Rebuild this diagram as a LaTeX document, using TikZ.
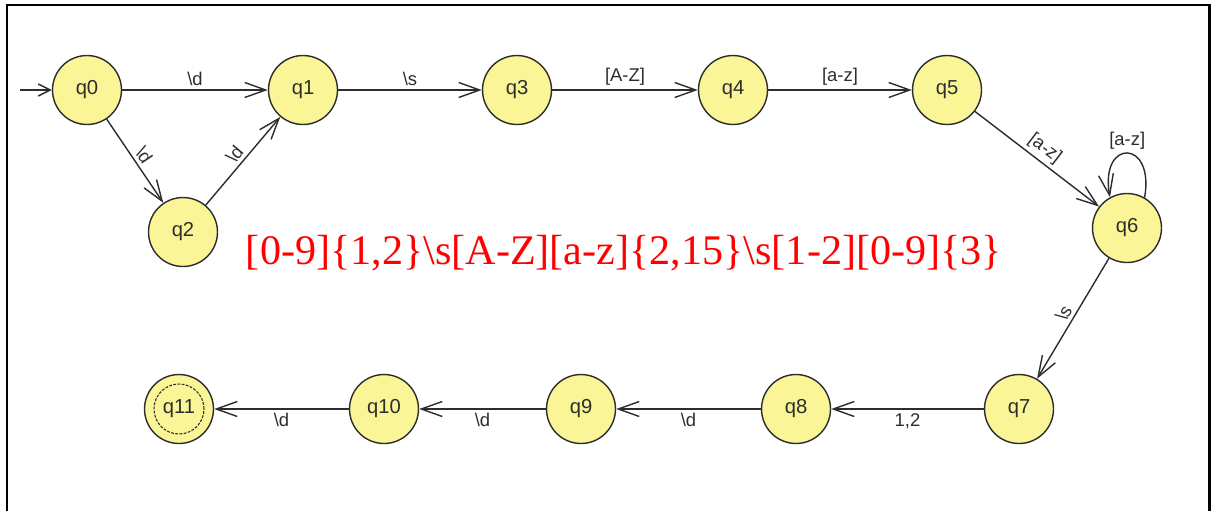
\documentclass[tikz,border=0pt]{standalone}
\usepackage{fontspec}
\setmainfont{Liberation Sans}
\newfontfamily\regexfont{Liberation Serif}
\usetikzlibrary{arrows.meta}
\definecolor{statefill}{RGB}{250,245,150}
\definecolor{edgegray}{RGB}{45,45,45}

\begin{document}
\begin{tikzpicture}[x=0.02cm,y=-0.02cm,>={Straight Barb[length=4.2mm,width=3mm]},
  state/.style={circle,draw=edgegray,line width=0.8pt,fill=statefill,minimum size=1.38cm,inner sep=0pt,font=\fontsize{11.5}{13}\selectfont,text=edgegray},
  trans/.style={->,draw=edgegray,line width=0.8pt},
  lbl/.style={font=\fontsize{10.5}{12}\selectfont,text=edgegray,inner sep=2pt}]
  \useasboundingbox (0,0) rectangle (1216,511);
  \draw[line width=1.7pt] (7,511) -- (7,5) -- (1209,5) -- (1209,511);
  % states, top row
  \node[state] (q0) at (87,90) {q0};
  \node[state] (q1) at (303,90) {q1};
  \node[state] (q2) at (183,232) {q2};
  \node[state] (q3) at (517,90) {q3};
  \node[state] (q4) at (733,90) {q4};
  \node[state] (q5) at (947,90) {q5};
  \node[state] (q6) at (1127,228) {q6};
  % states, bottom row
  \node[state] (q7) at (1019,409) {q7};
  \node[state] (q8) at (796,409) {q8};
  \node[state] (q9) at (581,409) {q9};
  \node[state] (q10) at (384,409) {q10};
  \node[state] (q11) at (179,409) {};
  \node[circle,draw=edgegray,line width=0.6pt,dash pattern=on 1.6pt off 0.8pt,minimum size=1cm,inner sep=0pt,font=\fontsize{11.5}{13}\selectfont,text=edgegray] (q11in) at (q11) {q11};
  \coordinate (start) at (20,90);
  % transitions
  \draw[trans,>={Straight Barb[length=2.4mm,width=2.4mm]}] (start) -- (q0);
  \draw[trans] (q0) -- node[lbl,above] {\textbackslash d} (q1);
  \draw[trans] (q0) -- node[lbl,sloped,above] {\textbackslash d} (q2);
  \draw[trans] (q2) -- node[lbl,sloped,above] {\textbackslash d} (q1);
  \draw[trans] (q1) -- node[lbl,above] {\textbackslash s} (q3);
  \draw[trans] (q3) -- node[lbl,above] {[A-Z]} (q4);
  \draw[trans] (q4) -- node[lbl,above] {[a-z]} (q5);
  \draw[trans] (q5) -- node[lbl,sloped,above] {[a-z]} (q6);
  \draw[trans] (q6.60) to[out=80,in=100,looseness=4.4] node[lbl,above] {[a-z]} (q6.119);
  \draw[trans] (q6) -- node[lbl,sloped,above] {\textbackslash s} (q7);
  \draw[trans] (q7) -- node[lbl,below] {1,2} (q8);
  \draw[trans] (q8) -- node[lbl,below] {\textbackslash d} (q9);
  \draw[trans] (q9) -- node[lbl,below] {\textbackslash d} (q10);
  \draw[trans] (q10) -- node[lbl,below] {\textbackslash d} (q11);
  % the regular expression
  \node[text=red,font=\regexfont\fontsize{24}{28}\selectfont] (regex) at (624,253) {[0-9]\{1,2\}\textbackslash s[A-Z][a-z]\{2,15\}\textbackslash s[1-2][0-9]\{3\}};
\end{tikzpicture}
\end{document}
